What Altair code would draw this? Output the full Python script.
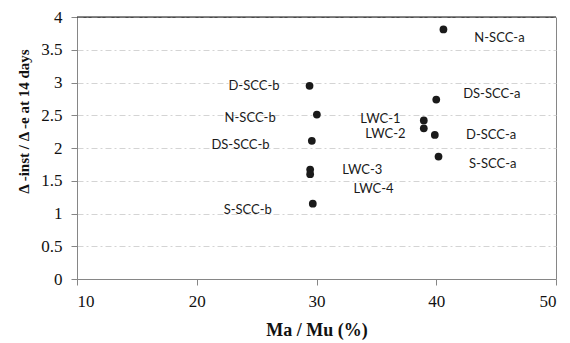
import altair as alt
import pandas as pd

# Specimen names and measured values
names = ["D-SCC-b", "N-SCC-b", "DS-SCC-b", "LWC-3", "LWC-4", "S-SCC-b",
         "N-SCC-a", "DS-SCC-a", "LWC-1", "LWC-2", "D-SCC-a", "S-SCC-a"]
ma_mu = [29.42, 30.03, 29.61, 29.47, 29.47, 29.69,
         40.60, 40.00, 38.96, 38.96, 39.88, 40.19]
ratio = [2.95, 2.51, 2.11, 1.67, 1.60, 1.15,
         3.81, 2.74, 2.42, 2.30, 2.20, 1.87]

# Where each name label sits, in data units
label_x = [24.78, 24.46, 23.65, 33.82, 34.76, 24.26,
           45.28, 44.64, 35.34, 35.76, 44.59, 44.72]
label_y = [2.95, 2.46, 2.04, 1.66, 1.38, 1.05,
           3.68, 2.83, 2.44, 2.21, 2.20, 1.76]

x_ticks = [10, 20, 30, 40, 50]
y_ticks = [0, 0.5, 1, 1.5, 2, 2.5, 3, 3.5, 4]

df = pd.DataFrame({"name": names, "x": ma_mu, "y": ratio,
                   "lx": label_x, "ly": label_y})

SERIF = "Liberation Serif"
GREY = "#868686"

x_scale = alt.Scale(domain=[10, 50], nice=False, zero=False)
y_scale = alt.Scale(domain=[0, 4], nice=False)

# One axis definition shared by every layer so they merge cleanly
x_axis = alt.Axis(values=x_ticks, title="Ma / Mu (%)", grid=False,
                  domainColor=GREY, tickColor=GREY, tickSize=6,
                  labelPadding=8, titlePadding=12, titleFontSize=18)
y_axis = alt.Axis(values=y_ticks, format="~g", labelOverlap=False,
                  title="Δ -inst / Δ -e at 14 days",
                  grid=True, gridColor="#d4d4d4",
                  gridDash=[6, 3, 2, 3], gridWidth=1,
                  domainColor=GREY, tickColor=GREY, tickSize=6,
                  labelPadding=9, titleFontSize=15,
                  titleX=-54, titleY=104, titleAngle=-90,
                  titleAlign="center", titleBaseline="middle")

base = alt.Chart(df)

points = base.mark_circle(size=60, color="#1a1a1a", opacity=1).encode(
    x=alt.X("x:Q", scale=x_scale, axis=x_axis),
    y=alt.Y("y:Q", scale=y_scale, axis=y_axis),
)

labels = base.mark_text(font="Lato", fontSize=13, color="#1a1a1a",
                        align="center", baseline="middle").encode(
    x=alt.X("lx:Q", scale=x_scale, axis=x_axis),
    y=alt.Y("ly:Q", scale=y_scale, axis=y_axis),
    text="name:N",
)

top_line = alt.Chart(pd.DataFrame({"y": [4]})).mark_rule(
    color="#111111", strokeWidth=1.2).encode(
    y=alt.Y("y:Q", scale=y_scale, axis=y_axis))

chart = alt.layer(points, labels, top_line).properties(
    width=479, height=262,
    autosize=alt.AutoSizeParams(type="none"),
    padding={"left": 77, "top": 17, "right": 14, "bottom": 64},
).configure_view(
    stroke=GREY, strokeWidth=1
).configure_axis(
    labelFont=SERIF, labelFontSize=17, labelColor="#111111",
    titleFont=SERIF, titleFontWeight="bold",
    titleColor="#111111",
)

chart.save("out.html", embed_options={"renderer": "svg", "actions": False})
